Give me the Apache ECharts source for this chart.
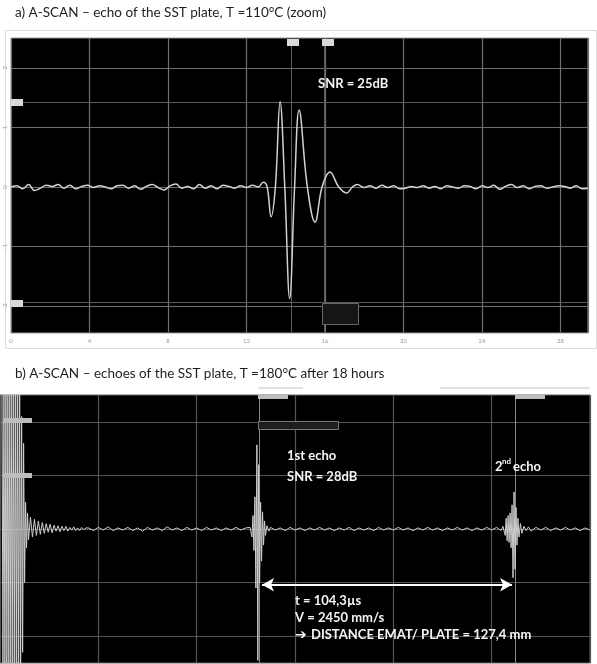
<!DOCTYPE html>
<html>
<head>
<meta charset="utf-8">
<script src="https://cdn.jsdelivr.net/npm/echarts@6/dist/echarts.min.js"></script>
<style>
  html, body { margin: 0; padding: 0; background: #fff; }
  #chart { width: 597px; height: 664px; }
</style>
</head>
<body>
<div id="chart"></div>
<script>
// ---- panel a : echo at 110°C (time µs, amplitude) ----
const aNoiseBefore = [
  [0.0, 0.00], [0.3, 0.02], [0.6, -0.03], [0.9, 0.04], [1.2, -0.06], [1.5, -0.02], [1.8, 0.03],
  [2.1, 0.01], [2.4, 0.04], [2.7, -0.02], [3.0, 0.03], [3.3, -0.03], [3.6, 0.01], [3.9, 0.03],
  [4.2, -0.01], [4.5, 0.02], [4.8, 0.00], [5.1, -0.03], [5.4, 0.02], [5.7, 0.03], [6.0, -0.02],
  [6.3, 0.02], [6.6, -0.04], [6.9, 0.01], [7.2, 0.04], [7.5, -0.01], [7.8, -0.05], [8.1, 0.02],
  [8.4, 0.05], [8.7, -0.02], [9.0, 0.01], [9.3, -0.03], [9.6, 0.04], [9.9, -0.02], [10.2, 0.02],
  [10.5, -0.03], [10.8, 0.03], [11.1, 0.01], [11.4, -0.02], [11.7, 0.02], [12.0, -0.01], [12.3, 0.03]
];
const aEcho = [
  [12.6, 0.00], [12.85, 0.08], [13.05, 0.00], [13.25, -0.50], [13.47, 0.00], [13.71, 1.43],
  [13.95, 0.00], [14.2, -1.87], [14.45, 0.00], [14.68, 1.29], [15.1, 0.00], [15.49, -0.59],
  [15.85, 0.00], [16.25, 0.25], [16.7, 0.00], [17.1, -0.10], [17.4, 0.00], [17.65, 0.04], [18.0, -0.01]
];
const aNoiseAfter = [
  [18.3, 0.02], [18.6, -0.02], [18.9, 0.03], [19.2, -0.01], [19.5, 0.02], [19.8, -0.03], [20.1, -0.02],
  [20.4, 0.01], [20.7, -0.01], [21.0, 0.02], [21.3, -0.02], [21.6, 0.01], [21.9, -0.03], [22.2, 0.02],
  [22.5, 0.00], [22.8, -0.02], [23.1, 0.02], [23.4, 0.01], [23.7, -0.03], [24.0, 0.02], [24.3, -0.01],
  [24.6, 0.03], [24.9, -0.04], [25.2, 0.01], [25.5, 0.04], [25.8, -0.01], [26.1, 0.02], [26.4, -0.03],
  [26.7, 0.01], [27.0, 0.02], [27.3, -0.02], [27.6, 0.00], [27.9, 0.02], [28.2, 0.01], [28.5, -0.02],
  [28.8, 0.02], [29.1, -0.03], [29.4, -0.02]
];
const aGridY = [-2, -1, 0, 1, 2];
const aYLabels = [-2, -1, 0, 1, 2];
const aCursorX = [14.27, 15.95];
const aCursorY = [1.43, -1.93];

// ---- panel b : echoes at 180°C after 18 h ----
const bPulse = [
  [0.8, 2.6], [1.2, -2.6], [1.6, 2.6], [2.0, -2.6], [2.4, 2.6], [2.8, -2.6], [3.2, 2.6], [3.6, -2.6],
  [4.0, 2.6], [4.4, -2.6], [4.8, 2.6], [5.2, -2.6], [5.6, 2.6], [6.0, -2.6], [6.4, 2.6], [6.8, -2.6],
  [7.2, 2.6], [7.6, -2.6], [8.0, 2.6], [8.4, -2.6], [8.8, 2.1], [9.2, -2.3], [9.6, 1.6], [10.0, -1.0],
  [10.4, 0.5], [10.8, -0.35], [11.2, 0.3]
];
const bRing = [
  [11.6, -0.2], [12.4, 0.22], [13.2, -0.15], [14.0, 0.18], [14.8, -0.12], [15.6, 0.15], [16.4, -0.1],
  [17.2, 0.12], [18.0, -0.08], [18.8, 0.1], [19.6, -0.06], [20.4, 0.09], [21.2, -0.07], [22.0, 0.07],
  [22.8, -0.04], [23.6, 0.06], [24.4, -0.05], [25.2, 0.05], [26.0, -0.03], [26.8, 0.05], [27.6, -0.04],
  [28.4, 0.03], [29.2, -0.02], [30.0, 0.04], [30.8, -0.03], [31.6, 0.02], [32.4, -0.03], [33.2, 0.03],
  [34.0, -0.01], [35.0, 0.02]
];
const bNoise1 = [
  [36, 0.02], [38, -0.03], [40, 0.03], [42, -0.02], [44, 0.04], [46, -0.03], [48, 0.02], [50, -0.02],
  [52, 0.03], [54, -0.03], [56, 0.02], [58, -0.04], [60, 0.03], [62, -0.02], [64, 0.02], [66, -0.03],
  [68, 0.04], [70, -0.02], [72, 0.02], [74, -0.03], [76, 0.03], [78, -0.02], [80, 0.02], [82, -0.03],
  [84, 0.03], [86, -0.02], [88, 0.02], [90, -0.03], [92, 0.02], [94, -0.02], [96, 0.03], [98, -0.02],
  [100, 0.02]
];
const bEcho1 = [
  [101.7, 0.03], [102.5, -0.15], [102.9, 0.25], [103.3, -0.4], [103.7, 0.6], [104.1, -1.1],
  [104.5, 1.57], [104.9, -2.45], [105.2, 1.2], [105.6, -1.0], [106.0, 0.5], [106.4, -0.6],
  [106.8, 0.32], [107.2, -0.3], [107.6, 0.15], [108.0, -0.12], [108.6, 0.06], [109.4, -0.04]
];
const bNoise2 = [
  [110, 0.03], [112, -0.02], [114, 0.02], [116, -0.03], [118, 0.03], [120, -0.02], [122, 0.02],
  [124, -0.03], [126, 0.02], [128, -0.02], [130, 0.03], [132, -0.02], [134, 0.02], [136, -0.03],
  [138, 0.02], [140, -0.02], [142, 0.03], [144, -0.03], [146, 0.02], [148, -0.02], [150, 0.02],
  [152, -0.03], [154, 0.03], [156, -0.02], [158, 0.02], [160, -0.02], [162, 0.03], [164, -0.02],
  [166, 0.02], [168, -0.03], [170, 0.02], [172, -0.02], [174, 0.03], [176, -0.02], [178, 0.02],
  [180, -0.03], [182, 0.02], [184, -0.02], [186, 0.03], [188, -0.02], [190, 0.02], [192, -0.03],
  [194, 0.02], [196, -0.02], [198, 0.03], [200, -0.02], [202, 0.03], [203.8, -0.03]
];
const bEcho2 = [
  [204.6, 0.05], [205.5, -0.12], [205.9, 0.2], [206.3, -0.22], [206.7, 0.25], [207.1, -0.25],
  [207.5, 0.3], [207.9, -0.35], [208.3, 0.45], [208.7, -0.91], [209.1, 0.69], [209.5, -0.75],
  [209.9, 0.4], [210.3, -0.3], [210.7, 0.2], [211.1, -0.15], [211.7, 0.1], [212.3, -0.08],
  [213.1, 0.05], [214.0, -0.03]
];
const bNoise3 = [
  [215, 0.04], [216, -0.04], [218, 0.03], [220, -0.02], [222, 0.03], [224, -0.03], [226, 0.02],
  [228, -0.02], [230, 0.03], [232, -0.02], [234, 0.02], [236, -0.03], [238, 0.02], [240, -0.02]
];
const bGridY = [-2, -1, 0, 1, 2];
const bCursorX = [105.4, 209.5];
const bArrow = [[106.6, -1.04], [208.3, -1.04]];

const aTrace = [...aNoiseBefore, ...aEcho, ...aNoiseAfter];
const bTrace = [...bPulse, ...bRing, ...bNoise1, ...bEcho1, ...bNoise2, ...bEcho2, ...bNoise3];

const FONT = 'Lato, "DejaVu Sans", sans-serif';

function gridLines(values, color) {
  return values.map(function (v) {
    return { yAxis: v, lineStyle: { color: color, width: 1.2, type: 'solid' } };
  });
}
function cursorLines(xs, ys, color) {
  const out = [];
  xs.forEach(function (v) { out.push({ xAxis: v, lineStyle: { color: color, width: 1, type: 'solid' } }); });
  ys.forEach(function (v) { out.push({ yAxis: v, lineStyle: { color: color, width: 1, type: 'solid' } }); });
  return out;
}

function txt(text, left, top, size, color, weight) {
  return {
    type: 'text', left: left, top: top, z: 20,
    style: { text: text, fontSize: size, fontFamily: FONT, fontWeight: weight || 'normal', fill: color }
  };
}
function box(x, y, w, h, fill, stroke) {
  return {
    type: 'rect', left: x, top: y, z: 15,
    shape: { width: w, height: h },
    style: { fill: fill, stroke: stroke || null, lineWidth: 1 }
  };
}

const chart = echarts.init(document.getElementById('chart'));

const option = {
  animation: false,
  backgroundColor: '#fff',
  grid: [
    { left: 11, top: 38, width: 577, height: 295, show: true, backgroundColor: '#000', borderColor: '#9a9a9a', borderWidth: 1 },
    { left: 0, top: 395, width: 590, height: 268, show: true, backgroundColor: '#000', borderColor: '#666', borderWidth: 1 }
  ],
  xAxis: [
    {
      type: 'value', gridIndex: 0, min: 0, max: 29.4, interval: 4,
      axisLine: { show: false }, axisTick: { show: false },
      axisLabel: { fontSize: 6, color: '#999', margin: 5, showMaxLabel: false, fontFamily: FONT },
      splitLine: { show: true, lineStyle: { color: '#6e6e6e', width: 1.2 } }
    },
    {
      type: 'value', gridIndex: 1, min: 0, max: 240, interval: 40,
      axisLine: { show: false }, axisTick: { show: false }, axisLabel: { show: false },
      splitLine: { show: true, lineStyle: { color: '#555', width: 1.2 } }
    }
  ],
  yAxis: [
    {
      type: 'value', gridIndex: 0, min: -2.45, max: 2.5,
      axisLine: { show: false }, axisTick: { show: false }, splitLine: { show: false },
      axisLabel: { customValues: aYLabels, rotate: 90, fontSize: 6, color: '#999', margin: 3, fontFamily: FONT }
    },
    {
      type: 'value', gridIndex: 1, min: -2.5, max: 2.5,
      axisLine: { show: false }, axisTick: { show: false }, splitLine: { show: false }, axisLabel: { show: false }
    }
  ],
  series: [
    {
      type: 'line', xAxisIndex: 0, yAxisIndex: 0, data: aTrace, z: 3,
      smooth: 0.4, showSymbol: false, silent: true,
      lineStyle: { color: '#d2d2d2', width: 1.5 },
      markLine: {
        z: 1, silent: true, symbol: 'none', label: { show: false },
        data: gridLines(aGridY, '#6e6e6e').concat(cursorLines(aCursorX, aCursorY, '#5a5a5a'))
      }
    },
    {
      type: 'line', xAxisIndex: 1, yAxisIndex: 1, data: bTrace, z: 3,
      showSymbol: false, silent: true,
      lineStyle: { color: '#cfcfcf', width: 1 },
      markLine: {
        z: 1, silent: true, symbol: 'none', label: { show: false },
        data: gridLines(bGridY, '#555').concat(cursorLines(bCursorX, [], '#8a8a8a'))
      }
    },
    {
      type: 'line', xAxisIndex: 1, yAxisIndex: 1, data: [], z: 10,
      markLine: {
        z: 10, silent: true, symbol: ['arrow', 'arrow'], symbolSize: [10, 12], label: { show: false },
        lineStyle: { color: '#fff', width: 2, type: 'solid' },
        data: [[{ coord: bArrow[0] }, { coord: bArrow[1] }]]
      }
    }
  ],
  graphic: [
    { type: 'rect', left: 3, top: 28, z: -1, shape: { width: 591, height: 318 }, style: { fill: 'none', stroke: '#dcdcdc', lineWidth: 1 } },
    txt('a) A-SCAN \u2013 echo of the SST plate, T =110°C (zoom)', 15, 6, 13.5, '#1e1e1e'),
    txt('b) A-SCAN \u2013 echoes of the SST plate, T =180°C after 18 hours', 15, 367, 13.5, '#1e1e1e'),
    txt('SNR = 25dB', 318, 77, 13, '#f4f4f4', 'bold'),
    txt('1st echo', 287, 449, 13, '#f4f4f4', 'bold'),
    txt('SNR = 28dB', 287, 470, 13, '#f4f4f4', 'bold'),
    txt('2', 495, 460, 13, '#f4f4f4', 'bold'),
    txt('nd', 502, 457, 8, '#f4f4f4', 'bold'),
    txt('echo', 513, 460, 13, '#f4f4f4', 'bold'),
    txt('t = 104,3µs', 295, 594, 13, '#f4f4f4', 'bold'),
    txt('V = 2450 mm/s', 295, 611, 13, '#f4f4f4', 'bold'),
    txt('\u2794', 295, 627, 14, '#f4f4f4', 'bold'),
    txt('DISTANCE EMAT/ PLATE = 127,4 mm', 311, 628, 13, '#f4f4f4', 'bold'),
    // cursor tags of the scope software
    box(287, 39, 12, 7, '#d9d9d9'),
    box(322, 39, 12, 7, '#d9d9d9'),
    box(11, 99, 12, 7, '#d9d9d9'),
    box(11, 300, 12, 7, '#d9d9d9'),
    box(322, 303, 36, 21, '#151515', '#666'),
    box(258, 395, 30, 4, '#bdbdbd'),
    box(515, 395, 30, 4, '#bdbdbd'),
    box(258, 421, 80, 8, '#1e1e1e', '#777'),
    box(4, 418, 28, 5, '#bdbdbd'),
    box(4, 473, 28, 5, '#bdbdbd'),
    box(258, 387, 45, 2, '#e2e2e2'),
    box(440, 387, 150, 2, '#e2e2e2')
  ]
};

chart.setOption(option);
</script>
</body>
</html>
